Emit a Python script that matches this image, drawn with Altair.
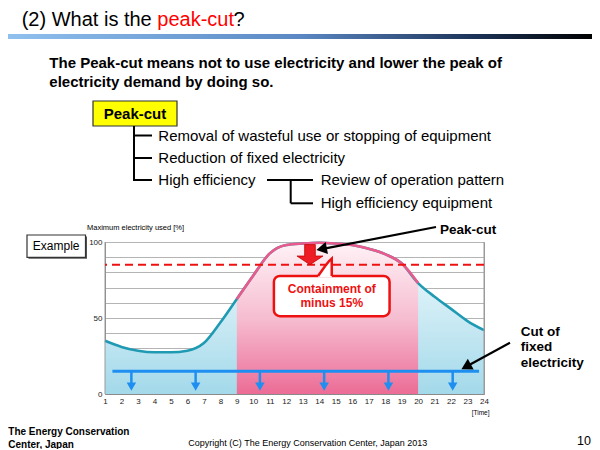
import math
import altair as alt
import pandas as pd

FONT = "Liberation Sans"

# ---------------- data ----------------
hours = list(range(1, 25))
usage = [35, 31, 28.5, 27.5, 27.5, 28.5, 33.5, 47, 62.5, 78, 92.5, 98,
         99, 99.5, 99, 98, 95.5, 92, 86, 73, 64, 56, 48, 42]
peak_hours = [9, 20]
contained_level = [85]
fixed_cut_level = [15]
fixed_cut_span = [1.45, 23.7]
fixed_cut_arrow_hours = [2.6, 6.5, 10.4, 14.3, 18.2, 22.1]
y_grid = list(range(0, 101, 10))

title_parts = ["(2) What is the ", "peak-cut", "?"]
intro_lines = ["The Peak-cut means not to use electricity and lower the peak of",
               "electricity demand by doing so."]
tree_level1 = ["Removal of wasteful use or stopping of equipment",
               "Reduction of fixed electricity", "High efficiency"]
tree_level2 = ["Review of operation pattern", "High efficiency equipment"]
callout_lines = ["Containment of", "minus 15%"]
fixed_label = ["Cut of", "fixed", "electricity"]

# ---------------- geometry ----------------
W, H = 379, 152
OX, OY = 105, 242          # page position of the plot origin
PAD = {"left": 97, "top": 234, "right": 108, "bottom": 55}

curve = pd.DataFrame({"hour": hours, "usage": usage})
peak = curve[(curve.hour >= peak_hours[0]) & (curve.hour <= peak_hours[1])]
ONE = pd.DataFrame({"k": [0]})

XS = alt.Scale(domain=[1, 24], nice=False, zero=False)
YS = alt.Scale(domain=[0, 100], nice=False, zero=False)
XAX = alt.Axis(values=hours, format="d", title=None, grid=False, ticks=False,
               labelFont=FONT, labelFontSize=8, labelColor="#222",
               labelPadding=3, domainColor="#8a8a8a", labelFlush=False,
               labelOverlap=False)
YAX = alt.Axis(values=y_grid, title=None, grid=True, gridColor="#b4b4b4",
               ticks=False, labelFont=FONT, labelFontSize=8, labelColor="#222",
               labelPadding=3, domainColor="#8a8a8a", labelOverlap=False,
               labelFlush=False,
               labelExpr="datum.value % 50 == 0 ? datum.label : ''")


def X(f):
    return alt.X(f"{f}:Q", scale=XS, axis=XAX)


def Y(f):
    return alt.Y(f"{f}:Q", scale=YS, axis=YAX)


def XD(v):
    return alt.XDatum(v, scale=XS, axis=XAX, type="quantitative")


def YD(v):
    return alt.YDatum(v, scale=YS, axis=YAX, type="quantitative")


def vx(px):
    return alt.value(px - OX)


def vy(py):
    return alt.value(py - OY)


def label(s, px, py, size, weight="normal", color="black", align="left",
          baseline="middle"):
    return alt.Chart(ONE).mark_text(
        text=s, font=FONT, fontSize=size, fontWeight=weight, color=color,
        align=align, baseline=baseline).encode(x=vx(px), y=vy(py))


def prule(x1, y1, x2, y2, color="black", w=2):
    return alt.Chart(ONE).mark_rule(color=color, strokeWidth=w).encode(
        x=vx(x1), x2=vx(x2), y=vy(y1), y2=vy(y2))


def prect(x1, y1, x2, y2, **kw):
    return alt.Chart(ONE).mark_rect(**kw).encode(
        x=vx(x1), x2=vx(x2), y=vy(y1), y2=vy(y2))


def parrow(tail, tip, head=150):
    dx, dy = tip[0] - tail[0], tip[1] - tail[1]
    ln = math.hypot(dx, dy)
    ux, uy = dx / ln, dy / ln
    ang = math.degrees(math.atan2(dy, dx)) % 360
    end = (tip[0] - ux * 9, tip[1] - uy * 9)
    hc = (tip[0] - ux * 5, tip[1] - uy * 5)
    line = prule(tail[0], tail[1], end[0], end[1], w=2.2)
    hd = alt.Chart(ONE).mark_point(shape="triangle-right", filled=True,
                                   size=head, color="black", opacity=1,
                                   angle=ang).encode(x=vx(hc[0]), y=vy(hc[1]))
    return [line, hd]


BLUE_GRAD = alt.LinearGradient(gradient="linear", x1=0, x2=0, y1=0, y2=1, stops=[
    alt.GradientStop(color="#f3fbfe", offset=0),
    alt.GradientStop(color="#a3d9ea", offset=1)])
PINK_GRAD = alt.LinearGradient(gradient="linear", x1=0, x2=0, y1=0, y2=1, stops=[
    alt.GradientStop(color="#fff2f6", offset=0),
    alt.GradientStop(color="#f6bdd0", offset=0.5),
    alt.GradientStop(color="#ec6c96", offset=1)])
RED = "#ee1111"
CUTBLUE = "#1e8ff0"

layers = []
# areas and curve
layers.append(alt.Chart(curve).mark_area(interpolate="monotone", color=BLUE_GRAD)
              .encode(x=X("hour"), y=Y("usage")))
layers.append(alt.Chart(peak).mark_area(interpolate="monotone", color=PINK_GRAD)
              .encode(x=X("hour"), y=Y("usage")))
layers.append(alt.Chart(curve).mark_line(interpolate="monotone", color="#1f9ab3",
                                         strokeWidth=2.6)
              .encode(x=X("hour"), y=Y("usage")))
layers.append(alt.Chart(peak).mark_line(interpolate="monotone", color="#ea5a8c",
                                        strokeWidth=2.6)
              .encode(x=X("hour"), y=Y("usage")))
# frame edges over the areas
layers.append(alt.Chart(ONE).mark_rule(color="#9a9a9a", strokeWidth=1)
              .encode(x=XD(1)))
layers.append(alt.Chart(ONE).mark_rule(color="#9a9a9a", strokeWidth=1)
              .encode(x=XD(24)))
# contained level (dashed)
layers.append(alt.Chart(pd.DataFrame({"usage": contained_level}))
              .mark_rule(color=RED, strokeWidth=2, strokeDash=[8, 5])
              .encode(y=Y("usage")))
# fixed-electricity cut line and arrows
layers.append(alt.Chart(pd.DataFrame({"hour": [fixed_cut_span[0]],
                                      "hour2": [fixed_cut_span[1]],
                                      "usage": fixed_cut_level}))
              .mark_rule(color=CUTBLUE, strokeWidth=3)
              .encode(x=X("hour"), x2="hour2", y=Y("usage")))
arrows_df = pd.DataFrame({"hour": fixed_cut_arrow_hours})
layers.append(alt.Chart(arrows_df).mark_rule(color=CUTBLUE, strokeWidth=2.5)
              .encode(x=X("hour"), y=YD(fixed_cut_level[0]), y2=alt.datum(6)))
layers.append(alt.Chart(arrows_df).mark_point(shape="triangle-down", filled=True,
                                              size=90, color=CUTBLUE, opacity=1)
              .encode(x=X("hour"), y=YD(4.9)))
# callout box
layers.append(alt.Chart(ONE).mark_rect(cornerRadius=6, fill="white", stroke=RED,
                                       strokeWidth=2.5)
              .encode(x=XD(11.25), x2=alt.datum(18.27),
                      y=YD(77.7), y2=alt.datum(51.2)))
tail_hour = [13.93, 14.35, 14.6, 14.76, 14.76]
tail_usage = [77.7, 84, 87.5, 89.1, 77.7]
tail_df = pd.DataFrame({"hour": tail_hour[:4], "usage": tail_usage[:4]})
layers.append(alt.Chart(tail_df).mark_area(color="white", interpolate="linear")
              .encode(x=X("hour"), y=Y("usage"), y2=alt.datum(76.6)))
layers.append(alt.Chart(pd.DataFrame({"hour": tail_hour, "usage": tail_usage,
                                      "o": list(range(5))}))
              .mark_line(color=RED, strokeWidth=2.5)
              .encode(x=X("hour"), y=Y("usage"), order="o:Q"))
for s, yv in zip(callout_lines, [69.4, 59.6]):
    layers.append(alt.Chart(ONE).mark_text(text=s, font=FONT, fontSize=12,
                                           fontWeight="bold", color=RED)
                  .encode(x=XD(14.76), y=YD(yv)))
# red peak-cut block arrow
ARROW_PATH = ("M -0.41 -0.77 L 0.41 -0.77 L 0.41 0.11 L 1 0.11 L 0 0.77 "
              "L -1 0.11 L -0.41 0.11 Z")
layers.append(alt.Chart(ONE).mark_point(shape=ARROW_PATH, size=676, filled=True,
                                        fill="#ee1c25", stroke="#c40000",
                                        strokeWidth=0.8, opacity=1)
              .encode(x=XD(13.44), y=YD(91.7)))

# ---------------- slide decoration (pixel space) ----------------
TITLE_GRAD = alt.LinearGradient(gradient="linear", x1=0, x2=1, y1=0, y2=0, stops=[
    alt.GradientStop(color="#8fc0ee", offset=0),
    alt.GradientStop(color="#5b88c4", offset=0.5),
    alt.GradientStop(color="#1c3358", offset=0.8),
    alt.GradientStop(color="#000000", offset=1)])
layers.append(prect(8, 34, 592, 39, color=TITLE_GRAD))
TS = 20
layers.append(label(title_parts[0], 21.7, 26.3, TS, baseline="alphabetic"))
layers.append(label(title_parts[1], 157.3, 26.3, TS, color="#ff0000",
                    baseline="alphabetic"))
layers.append(label(title_parts[2], 233.5, 26.3, TS, baseline="alphabetic"))
layers.append(label(intro_lines[0], 49.3, 63.3, 15, "bold"))
layers.append(label(intro_lines[1], 49.3, 81.7, 15, "bold"))

# Peak-cut tree
layers.append(prect(93, 101, 177, 126, fill="#ffff00", stroke="#333333", strokeWidth=1.2))
layers.append(label("Peak-cut", 135, 113.5, 15, "bold", align="center"))
layers.append(prule(134, 126, 134, 181))
for yy in [135.5, 158, 180]:
    layers.append(prule(134, yy, 152, yy))
for s, yy in zip(tree_level1, [135.5, 158, 180]):
    layers.append(label(s, 158.3, yy, 15))
layers.append(prule(267, 180, 313, 180))
layers.append(prule(290.7, 180, 290.7, 203.3))
layers.append(prule(290.7, 203.3, 313, 203.3))
for s, yy in zip(tree_level2, [180, 203.3]):
    layers.append(label(s, 320.7, yy, 15))

# chart surroundings
layers.append(prect(28.5, 236.5, 87, 258.8, fill="#555555"))
layers.append(prect(27, 235, 85.5, 257.3, fill="white", stroke="#333333", strokeWidth=1.2))
layers.append(label("Example", 56.2, 246.2, 12, align="center"))
layers.append(label("Maximum electricity used [%]", 87, 228.3, 7.5))
layers.append(label("[Time]", 471.7, 412.7, 6.5))
layers.append(label("Peak-cut", 440, 230, 13.5, "bold"))
layers += parrow((436, 227), (316.7, 250))
for s, yy in zip(fixed_label, [331.7, 347.4, 362.9]):
    layers.append(label(s, 520.7, yy, 13.5, "bold"))
layers += parrow((510, 342.7), (461.7, 369))

# footer
layers.append(label("The Energy Conservation", 8.3, 432.3, 10, "bold"))
layers.append(label("Center, Japan", 8.3, 444.5, 10, "bold"))
layers.append(label("Copyright (C) The Energy Conservation Center, Japan 2013",
                    188.3, 442.7, 9))
layers.append(label("10", 591, 440.7, 12.5, align="right"))

chart = alt.layer(*layers).properties(
    width=W, height=H, padding=PAD,
    autosize=alt.AutoSizeParams(type="none"),
    background="white",
).configure_view(stroke="#9a9a9a", strokeWidth=1)

chart.save("out.html", embed_options={"renderer": "svg", "actions": False})
